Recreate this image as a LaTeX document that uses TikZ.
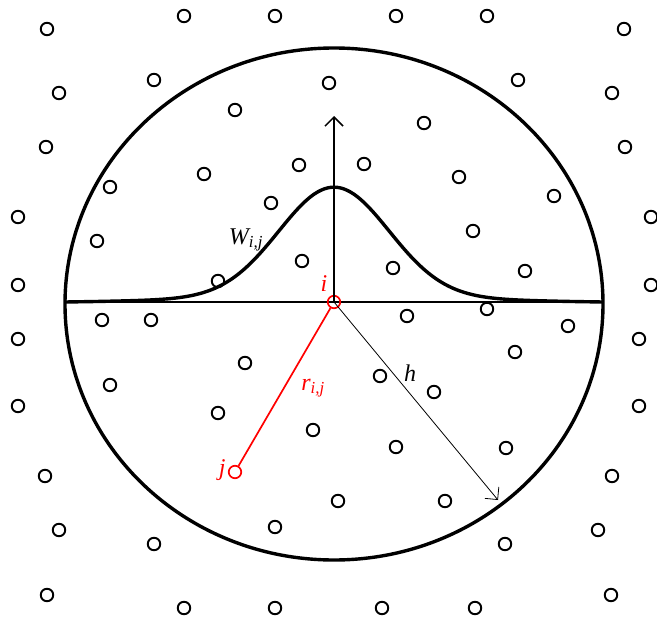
\documentclass[tikz,border=0pt]{standalone}
\usepackage{amsmath}
\usepackage{fontspec}
\setmainfont{Liberation Serif}
\usetikzlibrary{arrows.meta}

\begin{document}
\begin{tikzpicture}[x=1pt, y=-1pt, font=\fontsize{24}{28}\selectfont,
                    pt/.style={circle, draw, line width=1.9pt, minimum size=12.5pt, inner sep=0pt},
                    redpt/.style={pt, red, line width=1.7pt},
                    thick/.style={line width=3.4pt, line join=round},
                    barb/.style={-{Straight Barb[length=9pt, width=18pt]}}]
  \useasboundingbox (0,0) rectangle (657,621);
  \foreach \x/\y [count=\k] in {47/29, 184/16, 275/16, 396/16, 487/16, 624/29,
      154/80, 329/83, 518/80, 59/93, 612/93, 235/110, 424/123, 46/147, 625/147,
      204/174, 299/165, 364/164, 459/177, 110/187, 554/196, 271/203, 18/217, 651/217,
      97/241, 473/231, 302/261, 393/268, 525/271, 218/281, 18/285, 651/285,
      102/320, 151/320, 407/316, 487/309, 568/326, 18/339, 639/339,
      245/363, 515/352, 110/385, 380/376, 434/392, 18/406, 639/406,
      218/413, 313/430, 396/447, 506/448, 45/476, 612/476, 338/501, 445/501,
      59/530, 598/530, 275/527, 154/544, 505/544, 47/595, 611/595,
      184/608, 275/608, 382/608, 475/608}
    \node[pt] (p\k) at (\x,\y) {};
  \draw[thick] (334,304) ellipse [x radius=269, y radius=256];
  \coordinate (L) at (65,302);
  \coordinate (R) at (603,302);
  \coordinate (top) at (334,116);
  \coordinate (hend) at (498,500);
  \draw[line width=1.6pt] (L) -- (R);
  % kernel
  \draw[thick] plot[domain=-2.69:2.69, samples=120, smooth]
      ({334+100*\x}, {302-110*exp(-\x*\x/0.605)-6*exp(-\x*\x/4.5)+1.2});
  \node[redpt] (i) at (334,302) {};
  \node[redpt] (j) at (235,472) {};
  \draw[line width=1.5pt, barb] (i.center) -- (top);
  \draw[line width=0.8pt, barb] (i.center) -- (hend);
  \draw[red, line width=1.7pt] (i) -- (j);
  \node[red] (il) at (324,284) {\textit{i}};
  \node[red, anchor=east] (jl) at (229,470) {\textit{j}};
  \node[red] (rl) at (313,388) {$\textit{r}_{\textit{i,j}}$};
  \node (hl) at (410,373) {\textit{h}};
  \node (wl) at (246,240) {$\textit{W}_{\textit{i,j}}$};
\end{tikzpicture}
\end{document}
